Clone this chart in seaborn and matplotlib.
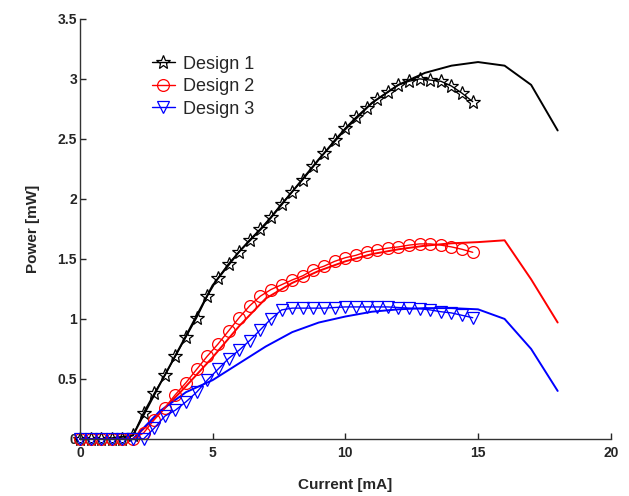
import numpy as np
import pandas as pd
import matplotlib
matplotlib.use("Agg")
import matplotlib.pyplot as plt
import seaborn as sns

# measured current steps [mA]
meas_current = [round(0.4 * i, 1) for i in range(38)]

meas_design1 = [0, 0, 0, 0, 0, 0.03, 0.22, 0.38, 0.53, 0.69, 0.85, 1.01, 1.19, 1.34,
                1.46, 1.56, 1.66, 1.75, 1.85, 1.96, 2.06, 2.16, 2.27, 2.38, 2.49, 2.59,
                2.68, 2.76, 2.83, 2.89, 2.95, 2.98, 3.0, 2.99, 2.98, 2.94, 2.88, 2.81]
meas_design2 = [0, 0, 0, 0, 0, 0, 0.05, 0.16, 0.26, 0.37, 0.47, 0.58, 0.69, 0.79,
                0.9, 1.01, 1.11, 1.19, 1.245, 1.285, 1.325, 1.36, 1.41, 1.44, 1.48, 1.51,
                1.53, 1.56, 1.575, 1.59, 1.6, 1.615, 1.625, 1.625, 1.615, 1.6, 1.58, 1.555]
meas_design3 = [0, 0, 0, 0, 0, 0, 0, 0.09, 0.19, 0.24, 0.31, 0.39, 0.49, 0.58,
                0.67, 0.74, 0.82, 0.91, 1.0, 1.075, 1.09, 1.09, 1.09, 1.09, 1.095, 1.1,
                1.1, 1.1, 1.1, 1.1, 1.095, 1.09, 1.085, 1.075, 1.06, 1.05, 1.03, 1.01]

# simulated curves
sim_current = list(range(19))
sim_design1 = [0, 0, 0.03, 0.45, 0.86, 1.28, 1.56, 1.79, 2.06, 2.33, 2.58, 2.8, 2.95,
               3.05, 3.11, 3.14, 3.11, 2.95, 2.57]
sim_design2 = [0, 0, 0, 0.21, 0.44, 0.68, 0.94, 1.17, 1.3, 1.4, 1.48, 1.54, 1.58,
               1.61, 1.63, 1.64, 1.655, 1.33, 0.97]
sim_design3 = [0, 0, 0, 0.23, 0.39, 0.49, 0.63, 0.77, 0.89, 0.97, 1.02, 1.06, 1.08,
               1.09, 1.09, 1.08, 1.0, 0.75, 0.4]

labels = ["Design 1", "Design 2", "Design 3"]
colors = ["black", "red", "blue"]
markers = ["*", "o", "v"]
msizes = [10, 8.5, 8.5]

sns.set_theme(style="ticks")
plt.rcParams["font.family"] = ["Liberation Sans", "DejaVu Sans"]

fig = plt.figure(figsize=(6.29, 4.96), dpi=100)
ax = fig.add_axes([0.127, 0.115, 0.844, 0.847])

meas = [meas_design1, meas_design2, meas_design3]
sims = [sim_design1, sim_design2, sim_design3]

for i in range(3):
    sns.lineplot(x=sim_current, y=sims[i], color=colors[i], lw=1.4, ax=ax,
                 estimator=None, legend=False)

for i in range(3):
    sns.lineplot(x=meas_current, y=meas[i], color=colors[i], lw=1.0,
                 marker=markers[i], markersize=msizes[i],
                 markerfacecolor="none", markeredgecolor=colors[i],
                 markeredgewidth=0.9, label=labels[i], ax=ax,
                 estimator=None)

for ln in ax.lines:
    ln.set_clip_on(False)

ax.set_xlim(0, 20)
ax.set_ylim(0, 3.5)
ax.set_xticks([0, 5, 10, 15, 20])
ax.set_yticks([0, 0.5, 1, 1.5, 2, 2.5, 3, 3.5])
ax.set_yticklabels(["0", "0.5", "1", "1.5", "2", "2.5", "3", "3.5"])
ax.tick_params(direction="in", length=4, width=1, labelsize=10)
ax.tick_params(axis="x", pad=5)
ax.tick_params(axis="y", pad=2)
for lab in ax.get_xticklabels() + ax.get_yticklabels():
    lab.set_fontweight("bold")
sns.despine(ax=ax)
for sp in ["left", "bottom"]:
    ax.spines[sp].set_linewidth(1)
    ax.spines[sp].set_color("#333333")

ax.set_xlabel("Current [mA]", fontsize=11, fontweight="bold", labelpad=13)
ax.set_ylabel("Power [mW]", fontsize=11, fontweight="bold", labelpad=13)

ax.legend(loc="upper left", bbox_to_anchor=(0.135, 0.912), frameon=False,
          fontsize=13, handlelength=1.3, labelspacing=0.3, handletextpad=0.45,
          borderpad=0, borderaxespad=0)

fig.savefig("out.png", dpi=100)
